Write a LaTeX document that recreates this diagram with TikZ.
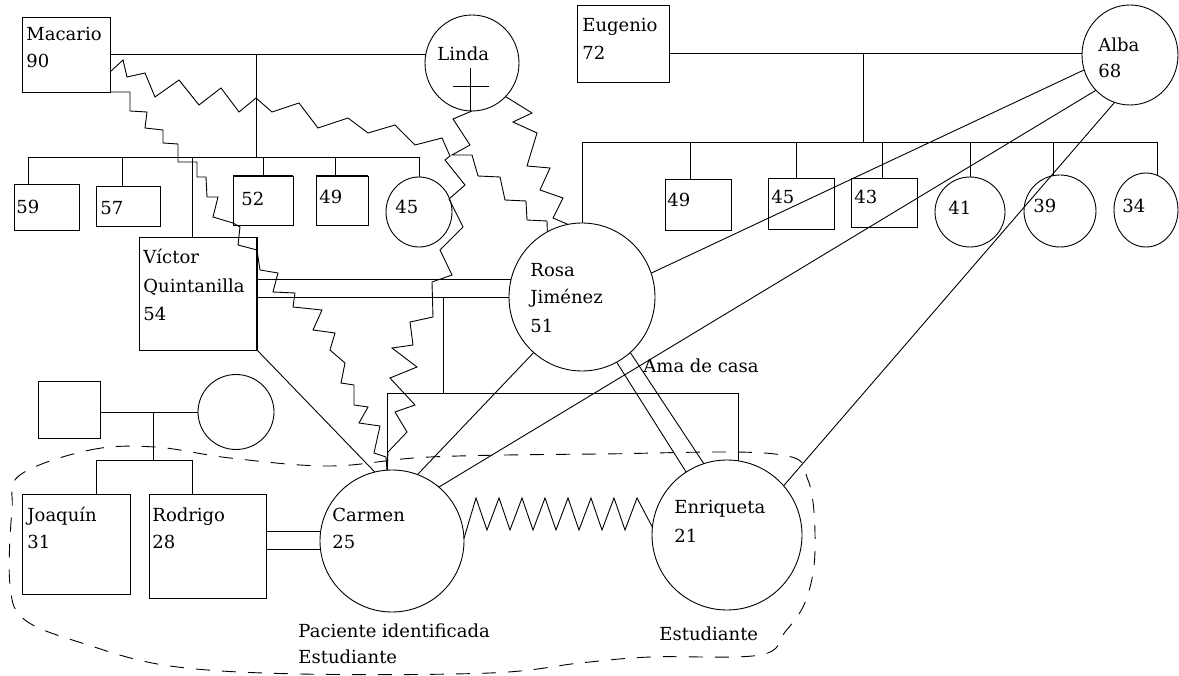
\documentclass[tikz,border=0pt]{standalone}
\usepackage{fontspec}
\newfontfamily\dvserif{DejaVu Serif}
\usetikzlibrary{shapes.geometric,calc}
\begin{document}
\begin{tikzpicture}[x=1pt,y=-1pt,line width=0.9pt,line join=miter,
  box/.style={draw,rectangle,inner sep=0pt,outer sep=0pt,anchor=north west},
  ell/.style={draw,ellipse,inner sep=0pt,outer sep=0pt},
  txt/.style={inner sep=0pt,anchor=base west,font=\dvserif\fontsize{18}{22}\selectfont},
  thick edge/.style={line width=2.6pt},
  household/.style={dash pattern=on 14pt off 12pt}]
\useasboundingbox (0,0) rectangle (1179,676);

% ---------- shapes ----------
\node[box,minimum width=88pt,minimum height=75pt] (mac) at (22,17) {};
\node[ell,minimum width=94pt,minimum height=96pt] (lin) at (472,63) {};
\node[box,minimum width=92pt,minimum height=77pt] (eug) at (577,5) {};
\node[ell,minimum width=96pt,minimum height=100pt] (alba) at (1130,55) {};

\node[box,minimum width=65pt,minimum height=46pt] (b59) at (14,184) {};
\node[box,minimum width=64pt,minimum height=40pt] (b57) at (96,186) {};
\node[box,minimum width=118pt,minimum height=113pt] (vic) at (139,237) {};
\node[box,minimum width=60pt,minimum height=49pt] (b52) at (233,176) {};
\node[box,minimum width=52pt,minimum height=49pt] (b49a) at (316,176) {};
\node[ell,minimum width=66pt,minimum height=70pt] (c45a) at (419,212) {};

\node[box,minimum width=66pt,minimum height=51pt] (b49b) at (665,179) {};
\node[box,minimum width=66pt,minimum height=51pt] (b45b) at (768,178) {};
\node[box,minimum width=66pt,minimum height=49pt] (b43) at (851,178) {};
\node[ell,minimum width=70pt,minimum height=70pt] (c41) at (970,212) {};
\node[ell,minimum width=72pt,minimum height=72pt] (c39) at (1060,211) {};
\node[ell,minimum width=64pt,minimum height=74pt] (c34) at (1146,210) {};

\node[ell,minimum width=146pt,minimum height=148pt] (rosa) at (582,297) {};
\node[box,minimum width=62pt,minimum height=57pt] (sq) at (38,381) {};
\node[ell,minimum width=76pt,minimum height=75pt] (sc) at (236,412) {};
\node[box,minimum width=108pt,minimum height=100pt] (joa) at (22,494) {};
\node[box,minimum width=117pt,minimum height=104pt] (rod) at (149,494) {};
\node[ell,minimum width=144pt,minimum height=142pt] (car) at (392,541) {};
\node[ell,minimum width=150pt,minimum height=150pt] (enr) at (727,535) {};

% thick edges
\draw[thick edge] (b52.north west) -- (b52.north east);
\draw[thick edge] (b49a.north west) -- (b49a.north east);
\draw[line width=2.2pt] (vic.north east) -- (vic.south east);

% Linda deceased cross
\draw (453,86) -- (489,86);
\draw (470,68) -- (470,111);

% ---------- texts ----------
\node[txt] (tmac1) at (26,41) {Macario};
\node[txt] (tmac2) at (26,68) {90};
\node[txt] (tlin) at (437,61) {Linda};
\node[txt] (teug1) at (582,32) {Eugenio};
\node[txt] (teug2) at (582,60) {72};
\node[txt] (talb1) at (1098,52) {Alba};
\node[txt] (talb2) at (1098,78) {68};
\node[txt] (t59) at (16,214) {59};
\node[txt] (t57) at (100,215) {57};
\node[txt] (t52) at (241,206) {52};
\node[txt] (t49a) at (319,204) {49};
\node[txt] (t45a) at (395,214) {45};
\node[txt] (t49b) at (667,207) {49};
\node[txt] (t45b) at (771,204) {45};
\node[txt] (t43) at (854,204) {43};
\node[txt] (t41) at (948,215) {41};
\node[txt] (t39) at (1033,213) {39};
\node[txt] (t34) at (1122,213) {34};
\node[txt] (tvic1) at (143,264) {Víctor};
\node[txt] (tvic2) at (143,293) {Quintanilla};
\node[txt] (tvic3) at (143,321) {54};
\node[txt] (tros1) at (530,277) {Rosa};
\node[txt] (tros2) at (530,304) {Jiménez};
\node[txt] (tros3) at (530,333) {51};
\node[txt] (tama) at (643,373) {Ama de casa};
\node[txt] (tjoa1) at (27,521) {Joaquín};
\node[txt] (tjoa2) at (27,548) {31};
\node[txt] (trod1) at (152,521) {Rodrigo};
\node[txt] (trod2) at (152,548) {28};
\node[txt] (tcar1) at (332,521) {Carmen};
\node[txt] (tcar2) at (332,548) {25};
\node[txt] (tpac1) at (298,637) {Paciente identificada};
\node[txt] (tpac2) at (298,663) {Estudiante};
\node[txt] (tenr1) at (674,513) {Enriqueta};
\node[txt] (tenr2) at (674,542) {21};
\node[txt] (tenr3) at (659,640) {Estudiante};

% ---------- Macario + Linda family ----------
\draw (mac.east |- lin.170) -- (lin.170);
\coordinate (mlTop) at (256,0 |- lin.170);
\coordinate (mlSib) at (256,157);
\draw (mlTop) -- (mlSib);
\coordinate (s1L) at (28,157);
\draw (s1L) -- (c45a.north |- mlSib);
\draw (s1L) -- (s1L |- b59.north);
\coordinate (d57) at (122,157);
\draw (d57) -- (d57 |- b57.north);
\coordinate (dvic) at (192,157);
\draw (dvic) -- (dvic |- vic.north);
\draw (b52.north |- mlSib) -- (b52.north);
\coordinate (d49a) at (335,157);
\draw (d49a) -- (d49a |- b49a.north);
\draw (c45a.north |- mlSib) -- (c45a.north);

% ---------- Eugenio + Alba family ----------
\draw (eug.east |- alba.178) -- (alba.178);
\coordinate (eaTop) at (863,0 |- alba.178);
\coordinate (eaSib) at (863,142);
\draw (eaTop) -- (eaSib);
\draw (rosa.north |- eaSib) -- (c34.72 |- eaSib);
\draw (rosa.north |- eaSib) -- (rosa.north);
\coordinate (d49b) at (690,142);
\draw (d49b) -- (d49b |- b49b.north);
\coordinate (d45b) at (796,142);
\draw (d45b) -- (d45b |- b45b.north);
\coordinate (d43) at (882,142);
\draw (d43) -- (d43 |- b43.north);
\draw (c41.north |- eaSib) -- (c41.north);
\draw (c39.100 |- eaSib) -- (c39.100);
\draw (c34.72 |- eaSib) -- (c34.72);

% ---------- Victor + Rosa family ----------
\draw (vic.east |- rosa.166.5) -- (rosa.166.5);
\draw (vic.east |- rosa.west) -- (rosa.west);
\coordinate (vrTop) at (443,0 |- rosa.west);
\coordinate (vrSib) at (443,393);
\draw (vrTop) -- (vrSib);
\coordinate (vrL) at (car.94 |- vrSib);
\coordinate (vrR) at (enr.81 |- vrSib);
\draw (vrL) -- (vrR);
\draw (vrL) -- (car.94);
\draw (vrR) -- (enr.81);

% ---------- Rodrigo's parents ----------
\draw (sq.east |- sc.west) -- (sc.west);
\coordinate (pTop) at (153,0 |- sc.west);
\coordinate (pSib) at (153,460);
\draw (pTop) -- (pSib);
\coordinate (pL) at (96,460);
\coordinate (pR) at (192,460);
\draw (pL) -- (pR);
\draw (pL) -- (pL |- joa.north);
\draw (pR) -- (pR |- rod.north);

% Rodrigo - Carmen (double line)
\draw (rod.east |- car.172.8) -- (car.172.8);
\draw (rod.east |- car.187.2) -- (car.187.2);

% ---------- relation lines ----------
\draw (vic.south east) -- (car.104.6);
\draw (rosa.229.4) -- (car.69.9);
\draw (alba.198.4) -- (rosa.19.9);
\draw (alba.226.7) -- (car.49.2);
\draw (alba.252.3) -- (enr.41.8);
\draw (rosa.298.3) -- (enr.123.5);
\draw (rosa.311.8) -- (enr.108.4);

% ---------- conflict (zigzag) lines ----------
\draw (mac.east |- 0,72) -- (123,60) -- (127,77) -- (145,73) -- (155,97) -- (179,80)
  -- (199,105) -- (221,88) -- (239,112) -- (256,98) -- (272,112) -- (299,103)
  -- (318,128) -- (348,118) -- (368,133) -- (395,125) -- (415,145) -- (442,138)
  -- (450,156) -- (445,160) -- (465,185) -- (449,199) -- (463,227) -- (440,250)
  -- (452,275) -- (432,282) -- (433,317) -- (410,322) -- (413,345) -- (392,348)
  -- (417,367) -- (390,378) -- (415,405) -- (395,412) -- (407,432) -- (388,452)
  -- (car.94);
\draw (mac.south east) -- (130,92) -- (130,111) -- (147,112) -- (145,128) -- (163,130)
  -- (163,143) -- (178,144) -- (178,162) -- (197,162) -- (197,177) -- (206,177)
  -- (207,197) -- (218,197) -- (213,217) -- (233,223) -- (240,227) -- (238,245)
  -- (257,250) -- (260,270) -- (278,273) -- (273,292) -- (295,293) -- (293,307)
  -- (322,310) -- (313,330) -- (335,333) -- (330,350) -- (345,363) -- (341,383)
  -- (354,385) -- (354,405) -- (368,407) -- (359,423) -- (380,426) -- (374,453)
  -- (386,457) -- (car.94);
\draw (lin.south) -- (453,119) -- (470,145) -- (452,155) -- (472,155) -- (478,176)
  -- (500,177) -- (505,200) -- (526,201) -- (527,220) -- (547,221) -- (rosa.118);
\draw (lin.315) -- (532,113) -- (513,122) -- (537,133) -- (527,166) -- (550,168)
  -- (540,190) -- (563,198) -- (553,218) -- (rosa.101.8);
\draw (car.2) -- (476,498) -- (487,530) -- (499,498) -- (510,530) -- (522,498)
  -- (533,530) -- (545,498) -- (556,530) -- (568,498) -- (579,530) -- (591,498)
  -- (602,530) -- (614,498) -- (625,530) -- (637,498) -- (enr.174);

% ---------- household boundary ----------
\draw[household] plot[smooth cycle,tension=0.6] coordinates {
  (20,475) (90,450) (155,447) (230,458) (330,466) (430,457) (600,454) (775,454)
  (808,480) (815,550) (806,600) (785,632) (760,655) (650,657) (580,663) (490,673)
  (300,674) (170,666) (85,644) (25,620) (10,585) (12,510)};
\end{tikzpicture}
\end{document}
